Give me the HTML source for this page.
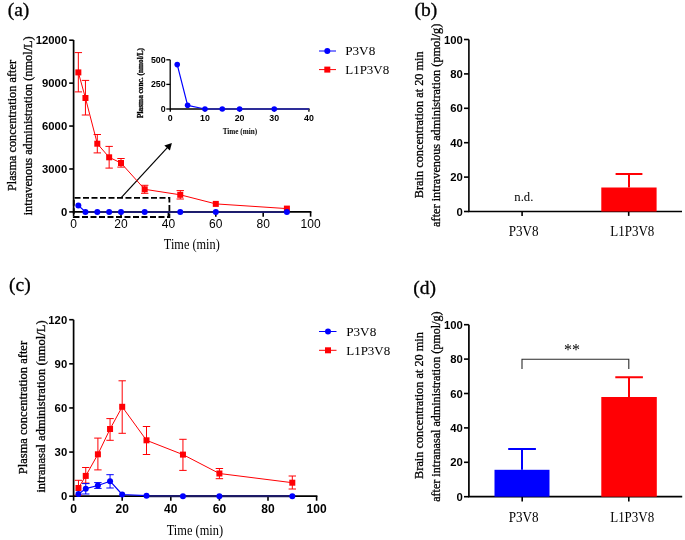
<!DOCTYPE html>
<html><head><meta charset="utf-8"><style>
html,body{margin:0;padding:0;background:#fff;}
body{width:685px;height:540px;overflow:hidden;font-family:"Liberation Sans",sans-serif;}
svg{display:block;will-change:transform;}
.sf{stroke:#000;stroke-width:0.3px;}
</style></head><body>
<svg width="685" height="540" viewBox="0 0 685 540">
<rect width="685" height="540" fill="#fff"/>
<text x="7.7" y="16.4" class="sf" font-family="Liberation Serif" font-size="19.5" font-weight="normal" text-anchor="start" fill="#000" >(a)</text>
<path d="M73.6 40V212.70000000000002M72.8 211.9H311.40000000000003" stroke="#000" stroke-width="1.7" fill="none"/>
<path d="M69.2 211.90H73.6" stroke="#000" stroke-width="1.6"/>
<text x="67.2" y="216.0" class="ss" font-family="Liberation Sans" font-size="11.3" font-weight="bold" text-anchor="end" fill="#000" >0</text>
<path d="M69.2 168.98H73.6" stroke="#000" stroke-width="1.6"/>
<text x="67.2" y="173.076" class="ss" font-family="Liberation Sans" font-size="11.3" font-weight="bold" text-anchor="end" fill="#000" >3000</text>
<path d="M69.2 126.05H73.6" stroke="#000" stroke-width="1.6"/>
<text x="67.2" y="130.15200000000002" class="ss" font-family="Liberation Sans" font-size="11.3" font-weight="bold" text-anchor="end" fill="#000" >6000</text>
<path d="M69.2 83.13H73.6" stroke="#000" stroke-width="1.6"/>
<text x="67.2" y="87.22800000000001" class="ss" font-family="Liberation Sans" font-size="11.3" font-weight="bold" text-anchor="end" fill="#000" >9000</text>
<path d="M69.2 40.20H73.6" stroke="#000" stroke-width="1.6"/>
<text x="67.2" y="44.30400000000001" class="ss" font-family="Liberation Sans" font-size="11.3" font-weight="bold" text-anchor="end" fill="#000" >12000</text>
<path d="M73.60 211.9V216.7" stroke="#000" stroke-width="1.6"/>
<text x="73.6" y="228.4" class="ss" font-family="Liberation Sans" font-size="12" font-weight="normal" text-anchor="middle" fill="#000" >0</text>
<path d="M121.00 211.9V216.7" stroke="#000" stroke-width="1.6"/>
<text x="121.0" y="228.4" class="ss" font-family="Liberation Sans" font-size="12" font-weight="normal" text-anchor="middle" fill="#000" >20</text>
<path d="M168.40 211.9V216.7" stroke="#000" stroke-width="1.6"/>
<text x="168.4" y="228.4" class="ss" font-family="Liberation Sans" font-size="12" font-weight="normal" text-anchor="middle" fill="#000" >40</text>
<path d="M215.80 211.9V216.7" stroke="#000" stroke-width="1.6"/>
<text x="215.8" y="228.4" class="ss" font-family="Liberation Sans" font-size="12" font-weight="normal" text-anchor="middle" fill="#000" >60</text>
<path d="M263.20 211.9V216.7" stroke="#000" stroke-width="1.6"/>
<text x="263.20000000000005" y="228.4" class="ss" font-family="Liberation Sans" font-size="12" font-weight="normal" text-anchor="middle" fill="#000" >80</text>
<path d="M310.60 211.9V216.7" stroke="#000" stroke-width="1.6"/>
<text x="310.6" y="228.4" class="ss" font-family="Liberation Sans" font-size="12" font-weight="normal" text-anchor="middle" fill="#000" >100</text>
<text transform="translate(191.8,249.4) scale(1.0,1.12)" class="ss" font-family="Liberation Serif" font-size="12.3" font-weight="normal" text-anchor="middle" fill="#000" >Time (min)</text>
<text transform="translate(16.2,191.1) rotate(-90)" class="sf" font-family="Liberation Serif" font-size="12.3" font-weight="normal" text-anchor="start" fill="#000">Plasma concentration after</text>
<text transform="translate(31.9,215.3) rotate(-90)" class="sf" font-family="Liberation Serif" font-size="12.3" font-weight="normal" text-anchor="start" fill="#000">intravenous administration (nmol/L)</text>
<rect x="73.8" y="197.8" width="95.6" height="19.2" fill="none" stroke="#000" stroke-width="1.8" stroke-dasharray="6 2.5" stroke-dashoffset="-0.7"/>
<path d="M121 197.8 L167.8 147.2" stroke="#000" stroke-width="1.2"/>
<path d="M171.9 143.1 L164.3 145.6 L169.9 150.4 Z" fill="#000"/>
<path d="M78.34 72.40 L85.45 98.00 L97.30 143.70 L109.15 157.30 L121.00 163.00 L144.70 189.30 L180.25 194.80 L215.80 203.90 L286.90 208.60" stroke="#ff0004" stroke-width="1" fill="none" stroke-linejoin="round"/>
<path d="M78.34 52.60V91.90M74.64 52.60h7.4M74.64 91.90h7.4" stroke="#ff0004" stroke-width="1" fill="none"/>
<path d="M85.45 80.40V115.00M81.75 80.40h7.4M81.75 115.00h7.4" stroke="#ff0004" stroke-width="1" fill="none"/>
<path d="M97.30 134.50V152.90M93.60 134.50h7.4M93.60 152.90h7.4" stroke="#ff0004" stroke-width="1" fill="none"/>
<path d="M109.15 146.40V168.10M105.45 146.40h7.4M105.45 168.10h7.4" stroke="#ff0004" stroke-width="1" fill="none"/>
<path d="M121.00 158.50V167.10M117.30 158.50h7.4M117.30 167.10h7.4" stroke="#ff0004" stroke-width="1" fill="none"/>
<path d="M144.70 185.30V193.30M141.00 185.30h7.4M141.00 193.30h7.4" stroke="#ff0004" stroke-width="1" fill="none"/>
<path d="M180.25 190.60V199.00M176.55 190.60h7.4M176.55 199.00h7.4" stroke="#ff0004" stroke-width="1" fill="none"/>
<rect x="75.34" y="69.40" width="6" height="6" fill="#ff0004"/>
<rect x="82.45" y="95.00" width="6" height="6" fill="#ff0004"/>
<rect x="94.30" y="140.70" width="6" height="6" fill="#ff0004"/>
<rect x="106.15" y="154.30" width="6" height="6" fill="#ff0004"/>
<rect x="118.00" y="160.00" width="6" height="6" fill="#ff0004"/>
<rect x="141.70" y="186.30" width="6" height="6" fill="#ff0004"/>
<rect x="177.25" y="191.80" width="6" height="6" fill="#ff0004"/>
<rect x="212.80" y="200.90" width="6" height="6" fill="#ff0004"/>
<rect x="283.90" y="205.60" width="6" height="6" fill="#ff0004"/>
<path d="M78.34 205.50 L85.45 211.90 L97.30 211.90 L109.15 211.90 L121.00 211.90 L144.70 211.90 L180.25 211.90 L215.80 211.90 L286.90 211.90" stroke="#0000ff" stroke-width="1.2" fill="none" stroke-linejoin="round"/>
<path d="M85.45 211.9H286.90" stroke="#1e1e66" stroke-width="1.9"/>
<circle cx="78.34" cy="205.50" r="3" fill="#0000ff"/>
<circle cx="85.45" cy="211.90" r="3" fill="#0000ff"/>
<circle cx="97.30" cy="211.90" r="3" fill="#0000ff"/>
<circle cx="109.15" cy="211.90" r="3" fill="#0000ff"/>
<circle cx="121.00" cy="211.90" r="3" fill="#0000ff"/>
<circle cx="144.70" cy="211.90" r="3" fill="#0000ff"/>
<circle cx="180.25" cy="211.90" r="3" fill="#0000ff"/>
<circle cx="215.80" cy="211.90" r="3" fill="#0000ff"/>
<circle cx="286.90" cy="211.90" r="3" fill="#0000ff"/>
<path d="M170.2 59.8V109.6M169.6 109H309.5" stroke="#000" stroke-width="1.3" fill="none"/>
<path d="M166.3 109.00H170.2" stroke="#000" stroke-width="1.3"/>
<text x="165.6" y="112.0" class="ss" font-family="Liberation Sans" font-size="8.8" font-weight="bold" text-anchor="end" fill="#000" >0</text>
<path d="M166.3 84.40H170.2" stroke="#000" stroke-width="1.3"/>
<text x="165.6" y="87.4" class="ss" font-family="Liberation Sans" font-size="8.8" font-weight="bold" text-anchor="end" fill="#000" >250</text>
<path d="M166.3 59.80H170.2" stroke="#000" stroke-width="1.3"/>
<text x="165.6" y="62.8" class="ss" font-family="Liberation Sans" font-size="8.8" font-weight="bold" text-anchor="end" fill="#000" >500</text>
<path d="M170.30 109V111.8" stroke="#000" stroke-width="1.3"/>
<text x="170.3" y="120.9" class="ss" font-family="Liberation Sans" font-size="8.8" font-weight="bold" text-anchor="middle" fill="#000" >0</text>
<path d="M204.95 109V111.8" stroke="#000" stroke-width="1.3"/>
<text x="204.95000000000002" y="120.9" class="ss" font-family="Liberation Sans" font-size="8.8" font-weight="bold" text-anchor="middle" fill="#000" >10</text>
<path d="M239.60 109V111.8" stroke="#000" stroke-width="1.3"/>
<text x="239.60000000000002" y="120.9" class="ss" font-family="Liberation Sans" font-size="8.8" font-weight="bold" text-anchor="middle" fill="#000" >20</text>
<path d="M274.25 109V111.8" stroke="#000" stroke-width="1.3"/>
<text x="274.25" y="120.9" class="ss" font-family="Liberation Sans" font-size="8.8" font-weight="bold" text-anchor="middle" fill="#000" >30</text>
<path d="M308.90 109V111.8" stroke="#000" stroke-width="1.3"/>
<text x="308.9" y="120.9" class="ss" font-family="Liberation Sans" font-size="8.8" font-weight="bold" text-anchor="middle" fill="#000" >40</text>
<text x="239.9" y="133.8" class="ss" font-family="Liberation Serif" font-size="7.2" font-weight="bold" text-anchor="middle" fill="#000" >Time (min)</text>
<text transform="translate(143.3,117.9) rotate(-90)" class="sf" font-family="Liberation Serif" font-size="7.3" font-weight="bold" text-anchor="start" fill="#000">Plasma conc. (nmol/L)</text>
<path d="M177.23 64.62 L187.62 105.30 L204.95 109.00 L222.28 109.00 L239.60 109.00 L274.25 109.00 L308.90 109.00" stroke="#0000ff" stroke-width="1.2" fill="none" stroke-linejoin="round"/>
<path d="M204.95 109H308.90" stroke="#2e2e99" stroke-width="1.8"/>
<circle cx="177.23" cy="64.62" r="2.8" fill="#0000ff"/>
<circle cx="187.62" cy="105.30" r="2.8" fill="#0000ff"/>
<circle cx="204.95" cy="109.00" r="2.8" fill="#0000ff"/>
<circle cx="222.28" cy="109.00" r="2.8" fill="#0000ff"/>
<circle cx="239.60" cy="109.00" r="2.8" fill="#0000ff"/>
<circle cx="274.25" cy="109.00" r="2.8" fill="#0000ff"/>
<path d="M319 51H336" stroke="#0000ff" stroke-width="1"/>
<circle cx="327.30" cy="51.00" r="3" fill="#0000ff"/>
<path d="M319 69.6H336" stroke="#ff0004" stroke-width="1"/>
<rect x="324.30" y="66.60" width="6" height="6" fill="#ff0004"/>
<text x="345.2" y="55.2" class="ss" font-family="Liberation Serif" font-size="13.2" font-weight="normal" text-anchor="start" fill="#000" >P3V8</text>
<text x="345.2" y="73.8" class="ss" font-family="Liberation Serif" font-size="13.0" font-weight="normal" text-anchor="start" fill="#000" >L1P3V8</text>
<text x="414.4" y="16.3" class="sf" font-family="Liberation Serif" font-size="19.5" font-weight="normal" text-anchor="start" fill="#000" >(b)</text>
<path d="M468.9 39.5V212.3M468.09999999999997 211.5H682" stroke="#000" stroke-width="1.6" fill="none"/>
<path d="M464 211.50H468.9" stroke="#000" stroke-width="1.6"/>
<text x="462.8" y="215.6" class="ss" font-family="Liberation Sans" font-size="11.3" font-weight="bold" text-anchor="end" fill="#000" >0</text>
<path d="M464 177.10H468.9" stroke="#000" stroke-width="1.6"/>
<text x="462.8" y="181.2" class="ss" font-family="Liberation Sans" font-size="11.3" font-weight="bold" text-anchor="end" fill="#000" >20</text>
<path d="M464 142.70H468.9" stroke="#000" stroke-width="1.6"/>
<text x="462.8" y="146.79999999999998" class="ss" font-family="Liberation Sans" font-size="11.3" font-weight="bold" text-anchor="end" fill="#000" >40</text>
<path d="M464 108.30H468.9" stroke="#000" stroke-width="1.6"/>
<text x="462.8" y="112.39999999999999" class="ss" font-family="Liberation Sans" font-size="11.3" font-weight="bold" text-anchor="end" fill="#000" >60</text>
<path d="M464 73.90H468.9" stroke="#000" stroke-width="1.6"/>
<text x="462.8" y="78.0" class="ss" font-family="Liberation Sans" font-size="11.3" font-weight="bold" text-anchor="end" fill="#000" >80</text>
<path d="M464 39.50H468.9" stroke="#000" stroke-width="1.6"/>
<text x="462.8" y="43.6" class="ss" font-family="Liberation Sans" font-size="11.3" font-weight="bold" text-anchor="end" fill="#000" >100</text>
<path d="M522.1 211.5V215.9" stroke="#000" stroke-width="1.6"/>
<path d="M628.7 211.5V215.9" stroke="#000" stroke-width="1.6"/>
<text transform="translate(523.6,235.5) scale(1.0,1.06)" class="ss" font-family="Liberation Serif" font-size="13.1" font-weight="normal" text-anchor="middle" fill="#000" >P3V8</text>
<text transform="translate(632.3,235.5) scale(1.0,1.06)" class="ss" font-family="Liberation Serif" font-size="13.0" font-weight="normal" text-anchor="middle" fill="#000" >L1P3V8</text>
<text x="523.8" y="201.3" class="ss" font-family="Liberation Serif" font-size="12.7" font-weight="normal" text-anchor="middle" fill="#000" >n.d.</text>
<rect x="601.3" y="187.5" width="55.3" height="24" fill="#ff0004"/>
<path d="M629 187.5V174M615.6 174H642.4" stroke="#ff0004" stroke-width="2" fill="none"/>
<text transform="translate(423.1,198.2) rotate(-90)" class="sf" font-family="Liberation Serif" font-size="12.3" font-weight="normal" text-anchor="start" fill="#000">Brain concentration at 20 min</text>
<text transform="translate(439.6,226.9) rotate(-90)" class="sf" font-family="Liberation Serif" font-size="12.3" font-weight="normal" text-anchor="start" fill="#000">after intravenous administration (pmol/g)</text>
<text x="9.1" y="291.4" class="sf" font-family="Liberation Serif" font-size="19.5" font-weight="normal" text-anchor="start" fill="#000" >(c)</text>
<path d="M73.6 319.7V497.0M72.8 496.2H317.40000000000003" stroke="#000" stroke-width="1.7" fill="none"/>
<path d="M69.2 496.20H73.6" stroke="#000" stroke-width="1.6"/>
<text x="67.2" y="500.3" class="ss" font-family="Liberation Sans" font-size="11.3" font-weight="bold" text-anchor="end" fill="#000" >0</text>
<path d="M69.2 452.08H73.6" stroke="#000" stroke-width="1.6"/>
<text x="67.2" y="456.176" class="ss" font-family="Liberation Sans" font-size="11.3" font-weight="bold" text-anchor="end" fill="#000" >30</text>
<path d="M69.2 407.95H73.6" stroke="#000" stroke-width="1.6"/>
<text x="67.2" y="412.052" class="ss" font-family="Liberation Sans" font-size="11.3" font-weight="bold" text-anchor="end" fill="#000" >60</text>
<path d="M69.2 363.83H73.6" stroke="#000" stroke-width="1.6"/>
<text x="67.2" y="367.928" class="ss" font-family="Liberation Sans" font-size="11.3" font-weight="bold" text-anchor="end" fill="#000" >90</text>
<path d="M69.2 319.70H73.6" stroke="#000" stroke-width="1.6"/>
<text x="67.2" y="323.804" class="ss" font-family="Liberation Sans" font-size="11.3" font-weight="bold" text-anchor="end" fill="#000" >120</text>
<path d="M73.60 496.2V500.7" stroke="#000" stroke-width="1.6"/>
<text x="73.6" y="513.2" class="ss" font-family="Liberation Sans" font-size="12" font-weight="bold" text-anchor="middle" fill="#000" >0</text>
<path d="M122.20 496.2V500.7" stroke="#000" stroke-width="1.6"/>
<text x="122.19999999999999" y="513.2" class="ss" font-family="Liberation Sans" font-size="12" font-weight="bold" text-anchor="middle" fill="#000" >20</text>
<path d="M170.80 496.2V500.7" stroke="#000" stroke-width="1.6"/>
<text x="170.8" y="513.2" class="ss" font-family="Liberation Sans" font-size="12" font-weight="bold" text-anchor="middle" fill="#000" >40</text>
<path d="M219.40 496.2V500.7" stroke="#000" stroke-width="1.6"/>
<text x="219.4" y="513.2" class="ss" font-family="Liberation Sans" font-size="12" font-weight="bold" text-anchor="middle" fill="#000" >60</text>
<path d="M268.00 496.2V500.7" stroke="#000" stroke-width="1.6"/>
<text x="268.0" y="513.2" class="ss" font-family="Liberation Sans" font-size="12" font-weight="bold" text-anchor="middle" fill="#000" >80</text>
<path d="M316.60 496.2V500.7" stroke="#000" stroke-width="1.6"/>
<text x="316.6" y="513.2" class="ss" font-family="Liberation Sans" font-size="12" font-weight="bold" text-anchor="middle" fill="#000" >100</text>
<text transform="translate(194.9,534.5) scale(1.0,1.12)" class="ss" font-family="Liberation Serif" font-size="12.4" font-weight="normal" text-anchor="middle" fill="#000" >Time (min)</text>
<text transform="translate(27.3,474.2) rotate(-90)" class="sf" font-family="Liberation Serif" font-size="12.5" font-weight="normal" text-anchor="start" fill="#000">Plasma concentration after</text>
<text transform="translate(44.6,492.6) rotate(-90)" class="sf" font-family="Liberation Serif" font-size="12.5" font-weight="normal" text-anchor="start" fill="#000">intranasal administration (nmol/L)</text>
<path d="M78.46 488.00 L85.75 475.90 L97.90 454.30 L110.05 429.00 L122.20 406.80 L146.50 440.30 L182.95 454.60 L219.40 473.50 L292.30 482.70" stroke="#ff0004" stroke-width="1" fill="none" stroke-linejoin="round"/>
<path d="M78.46 480.30V495.00M74.76 480.30h7.4M74.76 495.00h7.4" stroke="#ff0004" stroke-width="1" fill="none"/>
<path d="M85.75 467.50V483.10M82.05 467.50h7.4M82.05 483.10h7.4" stroke="#ff0004" stroke-width="1" fill="none"/>
<path d="M97.90 438.10V469.90M94.20 438.10h7.4M94.20 469.90h7.4" stroke="#ff0004" stroke-width="1" fill="none"/>
<path d="M110.05 418.60V440.30M106.35 418.60h7.4M106.35 440.30h7.4" stroke="#ff0004" stroke-width="1" fill="none"/>
<path d="M122.20 380.80V433.30M118.50 380.80h7.4M118.50 433.30h7.4" stroke="#ff0004" stroke-width="1" fill="none"/>
<path d="M146.50 426.50V454.50M142.80 426.50h7.4M142.80 454.50h7.4" stroke="#ff0004" stroke-width="1" fill="none"/>
<path d="M182.95 439.30V470.40M179.25 439.30h7.4M179.25 470.40h7.4" stroke="#ff0004" stroke-width="1" fill="none"/>
<path d="M219.40 468.50V478.70M215.70 468.50h7.4M215.70 478.70h7.4" stroke="#ff0004" stroke-width="1" fill="none"/>
<path d="M292.30 476.00V489.00M288.60 476.00h7.4M288.60 489.00h7.4" stroke="#ff0004" stroke-width="1" fill="none"/>
<rect x="75.46" y="485.00" width="6" height="6" fill="#ff0004"/>
<rect x="82.75" y="472.90" width="6" height="6" fill="#ff0004"/>
<rect x="94.90" y="451.30" width="6" height="6" fill="#ff0004"/>
<rect x="107.05" y="426.00" width="6" height="6" fill="#ff0004"/>
<rect x="119.20" y="403.80" width="6" height="6" fill="#ff0004"/>
<rect x="143.50" y="437.30" width="6" height="6" fill="#ff0004"/>
<rect x="179.95" y="451.60" width="6" height="6" fill="#ff0004"/>
<rect x="216.40" y="470.50" width="6" height="6" fill="#ff0004"/>
<rect x="289.30" y="479.70" width="6" height="6" fill="#ff0004"/>
<path d="M78.46 494.00 L85.75 488.70 L97.90 485.50 L110.05 481.20 L122.20 494.50 L146.50 495.70 L182.95 496.20 L219.40 496.20 L292.30 496.20" stroke="#0000ff" stroke-width="1.2" fill="none" stroke-linejoin="round"/>
<path d="M85.75 483.60V494.00M82.05 483.60h7.4M82.05 494.00h7.4" stroke="#0000ff" stroke-width="1" fill="none"/>
<path d="M97.90 482.60V488.40M94.20 482.60h7.4M94.20 488.40h7.4" stroke="#0000ff" stroke-width="1" fill="none"/>
<path d="M110.05 474.70V488.00M106.35 474.70h7.4M106.35 488.00h7.4" stroke="#0000ff" stroke-width="1" fill="none"/>
<path d="M146.50 496.2H292.30" stroke="#1c1a5c" stroke-width="1.9"/>
<circle cx="78.46" cy="494.00" r="3" fill="#0000ff"/>
<circle cx="85.75" cy="488.70" r="3" fill="#0000ff"/>
<circle cx="97.90" cy="485.50" r="3" fill="#0000ff"/>
<circle cx="110.05" cy="481.20" r="3" fill="#0000ff"/>
<circle cx="122.20" cy="494.50" r="3" fill="#0000ff"/>
<circle cx="146.50" cy="495.70" r="3" fill="#0000ff"/>
<circle cx="182.95" cy="496.20" r="3" fill="#0000ff"/>
<circle cx="219.40" cy="496.20" r="3" fill="#0000ff"/>
<circle cx="292.30" cy="496.20" r="3" fill="#0000ff"/>
<path d="M319 331.5H336.5" stroke="#0000ff" stroke-width="1"/>
<circle cx="328.00" cy="331.50" r="3" fill="#0000ff"/>
<path d="M319 350.3H336.5" stroke="#ff0004" stroke-width="1"/>
<rect x="325.00" y="347.30" width="6" height="6" fill="#ff0004"/>
<text x="346.2" y="335.6" class="ss" font-family="Liberation Serif" font-size="13.2" font-weight="normal" text-anchor="start" fill="#000" >P3V8</text>
<text x="346.2" y="354.9" class="ss" font-family="Liberation Serif" font-size="13.0" font-weight="normal" text-anchor="start" fill="#000" >L1P3V8</text>
<text x="413.3" y="294.4" class="sf" font-family="Liberation Serif" font-size="19.5" font-weight="normal" text-anchor="start" fill="#000" >(d)</text>
<path d="M468.9 324.7V497.5M468.09999999999997 496.7H682.2" stroke="#000" stroke-width="1.7" fill="none"/>
<path d="M464 496.70H468.9" stroke="#000" stroke-width="1.6"/>
<text x="462.8" y="500.8" class="ss" font-family="Liberation Sans" font-size="11.3" font-weight="bold" text-anchor="end" fill="#000" >0</text>
<path d="M464 462.30H468.9" stroke="#000" stroke-width="1.6"/>
<text x="462.8" y="466.40000000000003" class="ss" font-family="Liberation Sans" font-size="11.3" font-weight="bold" text-anchor="end" fill="#000" >20</text>
<path d="M464 427.90H468.9" stroke="#000" stroke-width="1.6"/>
<text x="462.8" y="432.0" class="ss" font-family="Liberation Sans" font-size="11.3" font-weight="bold" text-anchor="end" fill="#000" >40</text>
<path d="M464 393.50H468.9" stroke="#000" stroke-width="1.6"/>
<text x="462.8" y="397.6" class="ss" font-family="Liberation Sans" font-size="11.3" font-weight="bold" text-anchor="end" fill="#000" >60</text>
<path d="M464 359.10H468.9" stroke="#000" stroke-width="1.6"/>
<text x="462.8" y="363.20000000000005" class="ss" font-family="Liberation Sans" font-size="11.3" font-weight="bold" text-anchor="end" fill="#000" >80</text>
<path d="M464 324.70H468.9" stroke="#000" stroke-width="1.6"/>
<text x="462.8" y="328.8" class="ss" font-family="Liberation Sans" font-size="11.3" font-weight="bold" text-anchor="end" fill="#000" >100</text>
<path d="M522.2 496.7V501.5" stroke="#000" stroke-width="1.6"/>
<path d="M628.8 496.7V501.5" stroke="#000" stroke-width="1.6"/>
<text transform="translate(523.6,521.6) scale(1.0,1.06)" class="ss" font-family="Liberation Serif" font-size="13.1" font-weight="normal" text-anchor="middle" fill="#000" >P3V8</text>
<text transform="translate(632.2,521.6) scale(1.0,1.06)" class="ss" font-family="Liberation Serif" font-size="13.0" font-weight="normal" text-anchor="middle" fill="#000" >L1P3V8</text>
<rect x="494.5" y="469.8" width="55" height="26.9" fill="#0000ff"/>
<path d="M522 469.8V448.9M508.2 448.9H535.9" stroke="#0000ff" stroke-width="2" fill="none"/>
<rect x="601.3" y="397" width="55.5" height="99.7" fill="#ff0004"/>
<path d="M629 397V377.3M615.3 377.3H642.9" stroke="#ff0004" stroke-width="2" fill="none"/>
<path d="M522 369.1V359.2H628.8V369.1" stroke="#2a2a2a" stroke-width="1.1" fill="none"/>
<text x="564" y="354.9" class="ss" font-family="Liberation Serif" font-size="16" font-weight="normal" text-anchor="start" fill="#000" >**</text>
<text transform="translate(423.2,478.9) rotate(-90)" class="sf" font-family="Liberation Serif" font-size="12.3" font-weight="normal" text-anchor="start" fill="#000">Brain concentration at 20 min</text>
<text transform="translate(439.6,501.8) rotate(-90)" class="sf" font-family="Liberation Serif" font-size="12.1" font-weight="normal" text-anchor="start" fill="#000">after intranasal administration (pmol/g)</text>
</svg>
</body></html>
